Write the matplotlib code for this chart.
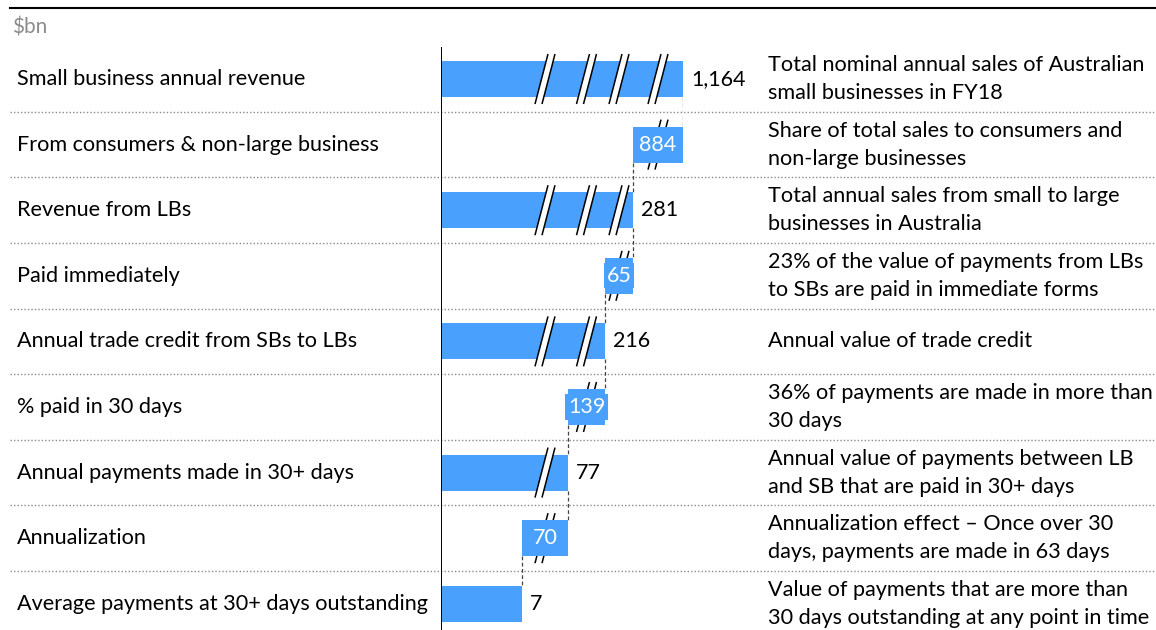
import numpy as np
import matplotlib
matplotlib.use("Agg")
import matplotlib.pyplot as plt
import matplotlib.transforms as mtransforms
from matplotlib.patches import Polygon

plt.rcParams['font.family'] = ['Lato', 'DejaVu Sans']

# data
row_labels = [
    "Small business annual revenue",
    "From consumers & non-large business",
    "Revenue from LBs",
    "Paid immediately",
    "Annual trade credit from SBs to LBs",
    "% paid in 30 days",
    "Annual payments made in 30+ days",
    "Annualization",
    "Average payments at 30+ days outstanding",
]
values = [1164, 884, 281, 65, 216, 139, 77, 70, 7]
is_total = [True, False, True, False, True, False, True, False, True]
value_text = ["1,164", "884", "281", "65", "216", "139", "77", "70", "7"]
notes = [
    "Total nominal annual sales of Australian\nsmall businesses in FY18",
    "Share of total sales to consumers and\nnon-large businesses",
    "Total annual sales from small to large\nbusinesses in Australia",
    "23% of the value of payments from LBs\nto SBs are paid in immediate forms",
    "Annual value of trade credit",
    "36% of payments are made in more than\n30 days",
    "Annual value of payments between LB\nand SB that are paid in 30+ days",
    "Annualization effect \u2013 Once over 30\ndays, payments are made in 63 days",
    "Value of payments that are more than\n30 days outstanding at any point in time",
]
unit = "$bn"

BLUE = "#49a0fd"

# broken axis: each total gets its own knot on a compressed scale
knot_vals = [0] + sorted(v for v, t in zip(values, is_total) if t)
knot_pos = [0, 81, 127, 164, 192, 242]


def fwd(v):
    return np.interp(v, knot_vals, knot_pos)


def inv(p):
    return np.interp(p, knot_pos, knot_vals)


# floating bars run from the next total up to the previous total
lefts, rights = [], []
for i, v in enumerate(values):
    if is_total[i]:
        lefts.append(0)
        rights.append(v)
    else:
        lefts.append(values[i + 1])
        rights.append(values[i - 1])

W, H = 1156, 630
fig = plt.figure(figsize=(W / 100, H / 100), dpi=100)
ax = fig.add_axes([441 / W, 0, 242 / W, 583 / H])
ax.set_xscale('function', functions=(fwd, inv))
ax.set_xlim(0, knot_vals[-1])
ax.set_ylim(8.4, -0.488)
ax.axis('off')
ax.axvline(0, color='black', lw=1.4, zorder=5)

n = len(values)
ypos = np.arange(n)
bh = 0.55

figx = mtransforms.blended_transform_factory(fig.transFigure, ax.transData)


def break_mark(x, y, z):
    tr = fig.dpi_scale_trans + mtransforms.ScaledTranslation(x, y, ax.transData)
    s = 0.01
    a = [(-10 * s, -25 * s), (3 * s, 25 * s)]
    b = [(-3 * s, -25 * s), (10 * s, 25 * s)]
    poly = Polygon([a[0], a[1], b[1], b[0]], closed=True, transform=tr,
                   facecolor='white', edgecolor='none', zorder=z, clip_on=False)
    ax.add_patch(poly)
    for ln in (a, b):
        ax.plot([ln[0][0], ln[1][0]], [ln[0][1], ln[1][1]], color='black',
                lw=1.1, transform=tr, zorder=z + 0.1, clip_on=False,
                solid_capstyle='butt')


breaks = [inv((fwd(knot_vals[k]) + fwd(knot_vals[k + 1])) / 2)
          for k in range(1, len(knot_vals) - 1)]

for i in range(n):
    ax.barh(ypos[i], rights[i] - lefts[i], left=lefts[i], height=bh,
            color=BLUE, zorder=3)
    for bx in breaks:
        if lefts[i] < bx < rights[i]:
            break_mark(bx, ypos[i], 4 if is_total[i] else 2)
    if is_total[i]:
        ax.annotate(value_text[i], (rights[i], ypos[i]), xytext=(6, 0),
                    textcoords='offset points', va='center', ha='left',
                    fontsize=15.5, color='black')
    else:
        cx = inv((fwd(lefts[i]) + fwd(rights[i])) / 2)
        ax.text(cx, ypos[i], value_text[i], ha='center', va='center',
                fontsize=15.5, color='white', zorder=6,
                bbox=dict(boxstyle='square,pad=0.12', fc=BLUE, ec='none'))

# dashed connectors between consecutive bars
for i in range(n - 1):
    xc = rights[i] if is_total[i] else lefts[i]
    ax.plot([xc, xc], [ypos[i] + bh / 2, ypos[i + 1] - bh / 2],
            color='#444444', lw=0.9, ls=(0, (3, 2)), zorder=2)

# row separators
for i in range(n - 1):
    ax.plot([10 / W, 1.0], [i + 0.5, i + 0.5], transform=figx, color='#8a8a8a',
            lw=1.0, ls=(0, (1, 1.5)), clip_on=False, zorder=1)

for i in range(n):
    ax.text(17 / W, ypos[i], row_labels[i], transform=figx, va='center',
            ha='left', fontsize=15.6, color='black', clip_on=False)
    ax.text(768 / W, ypos[i], notes[i], transform=figx, va='center',
            ha='left', fontsize=15.6, color='black', linespacing=1.5,
            clip_on=False)

fig.add_artist(plt.Line2D([10 / W, 1.0], [1 - 8 / H, 1 - 8 / H], color='black',
                          lw=1.5, transform=fig.transFigure))
fig.text(12 / W, 1 - 27 / H, unit, fontsize=15, color='#8c8c8c', va='center',
         ha='left')

fig.savefig("out.png", dpi=100)
